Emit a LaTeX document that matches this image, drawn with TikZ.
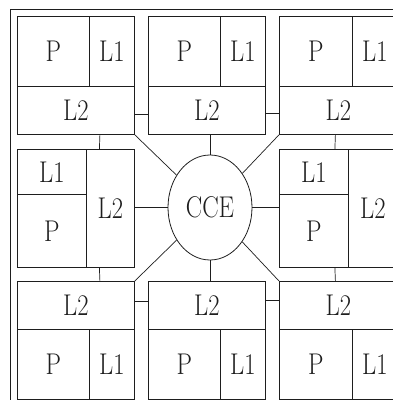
\documentclass[tikz,border=0pt]{standalone}
\usepackage{fontspec}
\setmainfont{Latin Modern Roman}[FakeStretch=0.82]
\usepackage{tikz}
\usetikzlibrary{calc, positioning, shapes.geometric}
\definecolor{lineblack}{RGB}{30, 30, 30}

\begin{document}
\begin{tikzpicture}[x=1pt, y=-1pt, line width=0.8pt, lineblack,
    cell/.style={draw, anchor=north west, inner sep=0pt,
                 font=\fontsize{30}{30}\selectfont},
    link/.style={line width=0.7pt}]
  \clip (0,0) rectangle (393,400);
  % outer frame
  \draw (10,9) rectangle (420,420);
  % top row
  \node[cell, minimum width=72pt, minimum height=70pt] (tlP) at (17,16) {P};
  \node[cell, minimum width=45pt, minimum height=70pt] (tlLa) at (89,16) {L1};
  \node[cell, minimum width=117pt, minimum height=48pt] (tlLb) at (17,86) {L2};
  \node[cell, minimum width=72pt, minimum height=70pt] (tmP) at (148,16) {P};
  \node[cell, minimum width=45pt, minimum height=70pt] (tmLa) at (220,16) {L1};
  \node[cell, minimum width=117pt, minimum height=48pt] (tmLb) at (148,86) {L2};
  \node[cell, minimum width=73pt, minimum height=70pt] (trP) at (279,16) {P};
  \node[cell, minimum width=45pt, minimum height=70pt] (trLa) at (352,16) {L1};
  \node[cell, minimum width=118pt, minimum height=48pt] (trLb) at (279,86) {L2};
  % middle row
  \node[cell, minimum width=69pt, minimum height=45pt] (mlLa) at (17,149) {L1};
  \node[cell, minimum width=69pt, minimum height=73pt] (mlP) at (17,194) {P};
  \node[cell, minimum width=48pt, minimum height=118pt] (mlLb) at (86,149) {L2};
  \node[cell, minimum width=69pt, minimum height=45pt] (mrLa) at (279,149) {L1};
  \node[cell, minimum width=69pt, minimum height=73pt] (mrP) at (279,194) {P};
  \node[cell, minimum width=49pt, minimum height=118pt] (mrLb) at (348,149) {L2};
  % bottom row
  \node[cell, minimum width=117pt, minimum height=48pt] (blLb) at (17,281) {L2};
  \node[cell, minimum width=72pt, minimum height=70pt] (blP) at (17,329) {P};
  \node[cell, minimum width=45pt, minimum height=70pt] (blLa) at (89,329) {L1};
  \node[cell, minimum width=117pt, minimum height=48pt] (bmLb) at (148,281) {L2};
  \node[cell, minimum width=72pt, minimum height=70pt] (bmP) at (148,329) {P};
  \node[cell, minimum width=45pt, minimum height=70pt] (bmLa) at (220,329) {L1};
  \node[cell, minimum width=118pt, minimum height=48pt] (brLb) at (279,281) {L2};
  \node[cell, minimum width=73pt, minimum height=70pt] (brP) at (279,329) {P};
  \node[cell, minimum width=45pt, minimum height=70pt] (brLa) at (352,329) {L1};
  % centre
  \node[draw, ellipse, inner sep=0pt, minimum width=84pt, minimum height=105pt,
        font=\fontsize{30}{30}\selectfont] (cce) at (210,207.5) {CCE};
  % links between neighbouring boxes
  \draw[link] ([yshift=-4pt]tlLb.east) -- ([yshift=-4pt]tmLb.west);
  \draw[link] ([yshift=-3pt]tmLb.east) -- ([yshift=-3pt]trLb.west);
  \draw[link] ([yshift=4pt]blLb.east) -- ([yshift=4pt]bmLb.west);
  \draw[link] ([yshift=5pt]bmLb.east) -- ([yshift=5pt]brLb.west);
  \draw[link] ([xshift=24pt]tlLb.south) -- ([xshift=-11pt]mlLb.north);
  \draw[link] ([xshift=-11pt]mlLb.south) -- ([xshift=24pt]blLb.north);
  \draw[link] ([xshift=-3pt]trLb.south) -- ([xshift=21pt]mrLa.north);
  \draw[link] ([xshift=21pt]mrP.south) -- ([xshift=-3pt]brLb.north);
  % links to CCE
  \draw[link] (cce.north) -- (cce.north |- tmLb.south);
  \draw[link] (cce.south) -- (cce.south |- bmLb.north);
  \draw[link] (cce.west) -- (cce.west -| mlLb.east);
  \draw[link] (cce.east) -- (cce.east -| mrLa.west);
  \draw[link] (tlLb.south east) -- (cce);
  \draw[link] (trLb.south west) -- (cce);
  \draw[link] (blLb.north east) -- (cce);
  \draw[link] (brLb.north west) -- (cce);
\end{tikzpicture}
\end{document}
